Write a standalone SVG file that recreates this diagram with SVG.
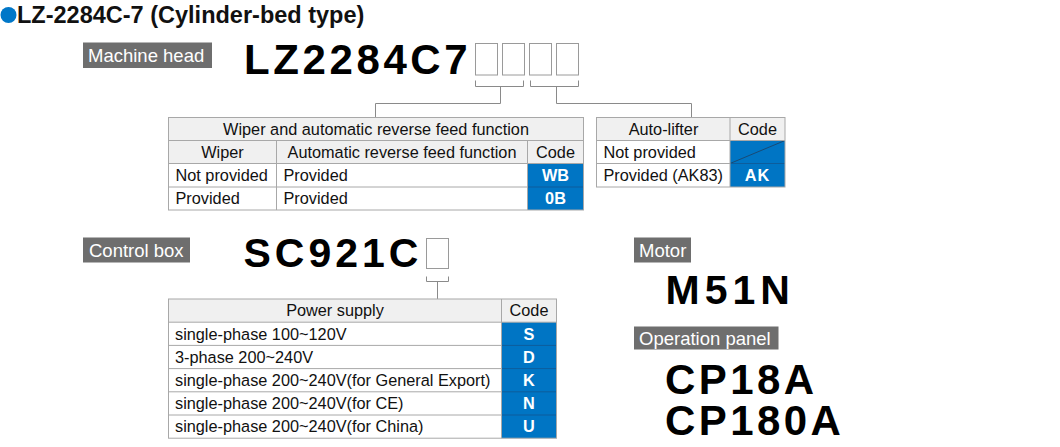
<svg xmlns="http://www.w3.org/2000/svg" width="1060" height="447" viewBox="0 0 1060 447">
<style>
text{font-family:"Liberation Sans",Arial,sans-serif;fill:#111}
.title{font-size:23.5px;font-weight:bold}
.lbl rect{fill:#6e6e6e}
.lbl text{fill:#fff;font-size:18.5px}
.big{font-weight:bold;fill:#000}
.slot{fill:none;stroke:#9a9a9a;stroke-width:1}
.conn{fill:none;stroke:#8a8a8a;stroke-width:1}
.hd{fill:#f0f0f0}
.bl{fill:#0075c4}
.grid{fill:none;stroke:#a8a8a8;stroke-width:1}
.bsep{stroke:#0d5d9c;stroke-width:1}
.t{font-size:16.3px}
.c{text-anchor:middle}
.w{fill:#fff;font-weight:bold;font-size:16.3px;text-anchor:middle}
</style>

<g id="title">
<circle cx="8.5" cy="15" r="8" fill="#0077c8"/>
<text class="title" x="17" y="22.5">LZ-2284C-7 (Cylinder-bed type)</text>
</g>

<g id="label-machine-head" class="lbl">
<rect x="83" y="42.5" width="129" height="25.5"/>
<text x="88" y="61.5">Machine head</text>
</g>

<g id="code-machine-head">
<text class="big" x="244" y="73.5" font-size="42" letter-spacing="3.6">LZ2284C7</text>
<rect class="slot" x="475.5" y="43.5" width="22" height="31.5"/>
<rect class="slot" x="502.5" y="43.5" width="22" height="31.5"/>
<rect class="slot" x="529.5" y="43.5" width="22" height="31.5"/>
<rect class="slot" x="556.5" y="43.5" width="22" height="31.5"/>
</g>

<g id="connectors">
<path class="conn" d="M475.5,80.5 V86.5 H523.5 V80.5 M500.5,86.5 V103.5 H375.5 V117.5"/>
<path class="conn" d="M530.5,80.5 V86.5 H578.5 V80.5 M556.5,86.5 V103.5 H691.5 V117.5"/>
<path class="conn" d="M426.5,276.5 V281.5 H448.5 V276.5 M437.5,281.5 V299"/>
</g>

<g id="table-wiper">
<rect class="hd" x="168.5" y="117.5" width="415" height="46"/>
<rect class="bl" x="527.5" y="163.5" width="56" height="46.5"/>
<line class="bsep" x1="527.5" y1="187" x2="583.5" y2="187"/>
<rect class="grid" x="168.5" y="117.5" width="415" height="92.5"/>
<path class="grid" d="M168.5,140.5 H583.5 M168.5,163.5 H583.5 M168.5,187 H527.5 M276.5,140.5 V210 M527.5,140.5 V210"/>
<text class="t c" x="376" y="134.7">Wiper and automatic reverse feed function</text>
<text class="t c" x="222.5" y="157.7">Wiper</text>
<text class="t c" x="402" y="157.7">Automatic reverse feed function</text>
<text class="t c" x="555.5" y="157.7">Code</text>
<text class="t" x="175.5" y="181">Not provided</text>
<text class="t" x="283.5" y="181">Provided</text>
<text class="w" x="555.5" y="181">WB</text>
<text class="t" x="175.5" y="204.2">Provided</text>
<text class="t" x="283.5" y="204.2">Provided</text>
<text class="w" x="555.5" y="204.2">0B</text>
</g>

<g id="table-autolifter">
<rect class="hd" x="596.5" y="117.5" width="188.5" height="23"/>
<rect class="bl" x="730" y="140.5" width="55" height="46.5"/>
<line x1="730" y1="163.5" x2="785" y2="140.5" stroke="#1f3f60" stroke-width="0.8"/>
<line class="bsep" x1="730" y1="163.5" x2="785" y2="163.5"/>
<rect class="grid" x="596.5" y="117.5" width="188.5" height="69.5"/>
<path class="grid" d="M596.5,140.5 H785 M596.5,163.5 H730 M730,117.5 V187"/>
<text class="t c" x="663.5" y="134.7">Auto-lifter</text>
<text class="t c" x="757.5" y="134.7">Code</text>
<text class="t" x="603.5" y="157.7">Not provided</text>
<text class="t" x="603.5" y="181">Provided (AK83)</text>
<text class="w" x="757.5" y="181" letter-spacing="1">AK</text>
</g>

<g id="label-control-box" class="lbl">
<rect x="83" y="237.5" width="107" height="25"/>
<text x="89" y="256.5">Control box</text>
</g>

<g id="code-control-box">
<text class="big" x="243.5" y="266.5" font-size="41" letter-spacing="4">SC921C</text>
<rect class="slot" x="426.5" y="238.5" width="22" height="30"/>
</g>

<g id="table-power">
<rect class="hd" x="168.5" y="299" width="388" height="23.2"/>
<rect class="bl" x="501.5" y="322.2" width="55" height="116"/>
<path class="bsep" d="M501.5,345.4 H556.5 M501.5,368.6 H556.5 M501.5,391.8 H556.5 M501.5,415 H556.5"/>
<rect class="grid" x="168.5" y="299" width="388" height="139.2"/>
<path class="grid" d="M168.5,322.2 H556.5 M168.5,345.4 H501.5 M168.5,368.6 H501.5 M168.5,391.8 H501.5 M168.5,415 H501.5 M501.5,299 V438.2"/>
<text class="t c" x="335" y="316.3">Power supply</text>
<text class="t c" x="529" y="316.3">Code</text>
<text class="t" x="175" y="339.5">single-phase 100~120V</text>
<text class="w" x="529" y="339.5">S</text>
<text class="t" x="175" y="362.7">3-phase 200~240V</text>
<text class="w" x="529" y="362.7">D</text>
<text class="t" x="175" y="385.9">single-phase 200~240V(for General Export)</text>
<text class="w" x="529" y="385.9">K</text>
<text class="t" x="175" y="409.1">single-phase 200~240V(for CE)</text>
<text class="w" x="529" y="409.1">N</text>
<text class="t" x="175" y="432.3">single-phase 200~240V(for China)</text>
<text class="w" x="529" y="432.3">U</text>
</g>

<g id="label-motor" class="lbl">
<rect x="634" y="237.5" width="57" height="25"/>
<text x="639" y="256.5">Motor</text>
</g>

<g id="code-motor">
<text class="big" x="665.5" y="303.5" font-size="41" letter-spacing="5">M51N</text>
</g>

<g id="label-operation-panel" class="lbl">
<rect x="634" y="326.5" width="144.5" height="23"/>
<text x="639" y="344.5">Operation panel</text>
</g>

<g id="code-operation-panel">
<text class="big" font-size="42" letter-spacing="3.4"><tspan x="665" y="393.5">CP18A</tspan><tspan x="665" y="435">CP180A</tspan></text>
</g>
</svg>
